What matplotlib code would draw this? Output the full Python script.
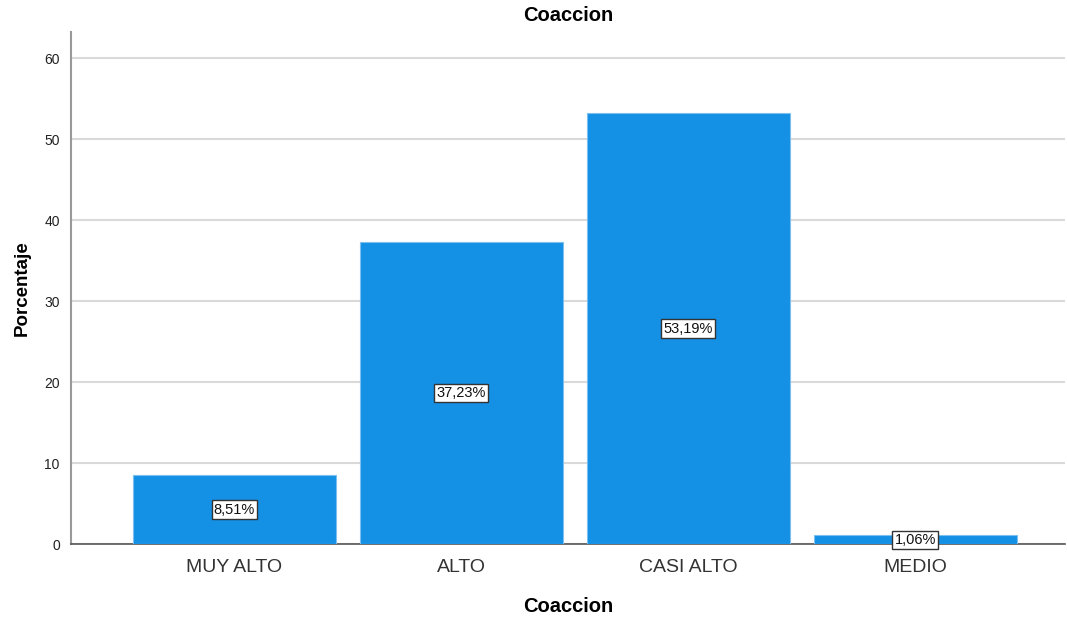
import matplotlib.pyplot as plt

plt.rcParams['font.family'] = ['Liberation Sans', 'DejaVu Sans']

# Data
categories = ["MUY ALTO", "ALTO", "CASI ALTO", "MEDIO"]
percentages = [8.51, 37.23, 53.19, 1.06]
value_labels = ["8,51%", "37,23%", "53,19%", "1,06%"]

fig = plt.figure(figsize=(10.67, 6.18), dpi=100)
ax = fig.add_axes([0.0665, 0.1197, 0.9315, 0.8283])

x = list(range(len(categories)))
bars = ax.bar(x, percentages, width=0.895, color="#1490e5",
              edgecolor="#7cc0f0", linewidth=0.8, zorder=3)

# value boxes in the middle of each bar
for xi, val, lab in zip(x, percentages, value_labels):
    ax.text(xi, val / 2, lab, ha="center", va="center", fontsize=10.5,
            color="#111111", zorder=5,
            bbox=dict(boxstyle="square,pad=0.15", facecolor="white",
                      edgecolor="#333333", linewidth=1))

ax.set_xlim(-0.72, 3.66)
ax.set_ylim(0, 63.2)
ax.set_yticks([0, 10, 20, 30, 40, 50, 60])
ax.set_xticks(x)
ax.set_xticklabels(categories, fontsize=14, color="#333333")
ax.tick_params(axis="y", length=0, labelsize=10, pad=8, labelcolor="#222222")
ax.tick_params(axis="x", length=0, pad=11)

ax.grid(axis="y", color="#d9d9d9", linewidth=1.5, zorder=0)
for side in ["top", "right"]:
    ax.spines[side].set_visible(False)
ax.spines["left"].set_color("#999999")
ax.spines["left"].set_linewidth(1.5)
ax.spines["bottom"].set_color("#555555")
ax.spines["bottom"].set_linewidth(1.2)

ax.set_title("Coaccion", fontsize=14.5, fontweight="bold", pad=8)
ax.set_xlabel("Coaccion", fontsize=14.5, fontweight="bold", labelpad=15)
ax.set_ylabel("Porcentaje", fontsize=13.5, fontweight="bold", labelpad=10)

fig.savefig("out.png", dpi=100, facecolor="white")
